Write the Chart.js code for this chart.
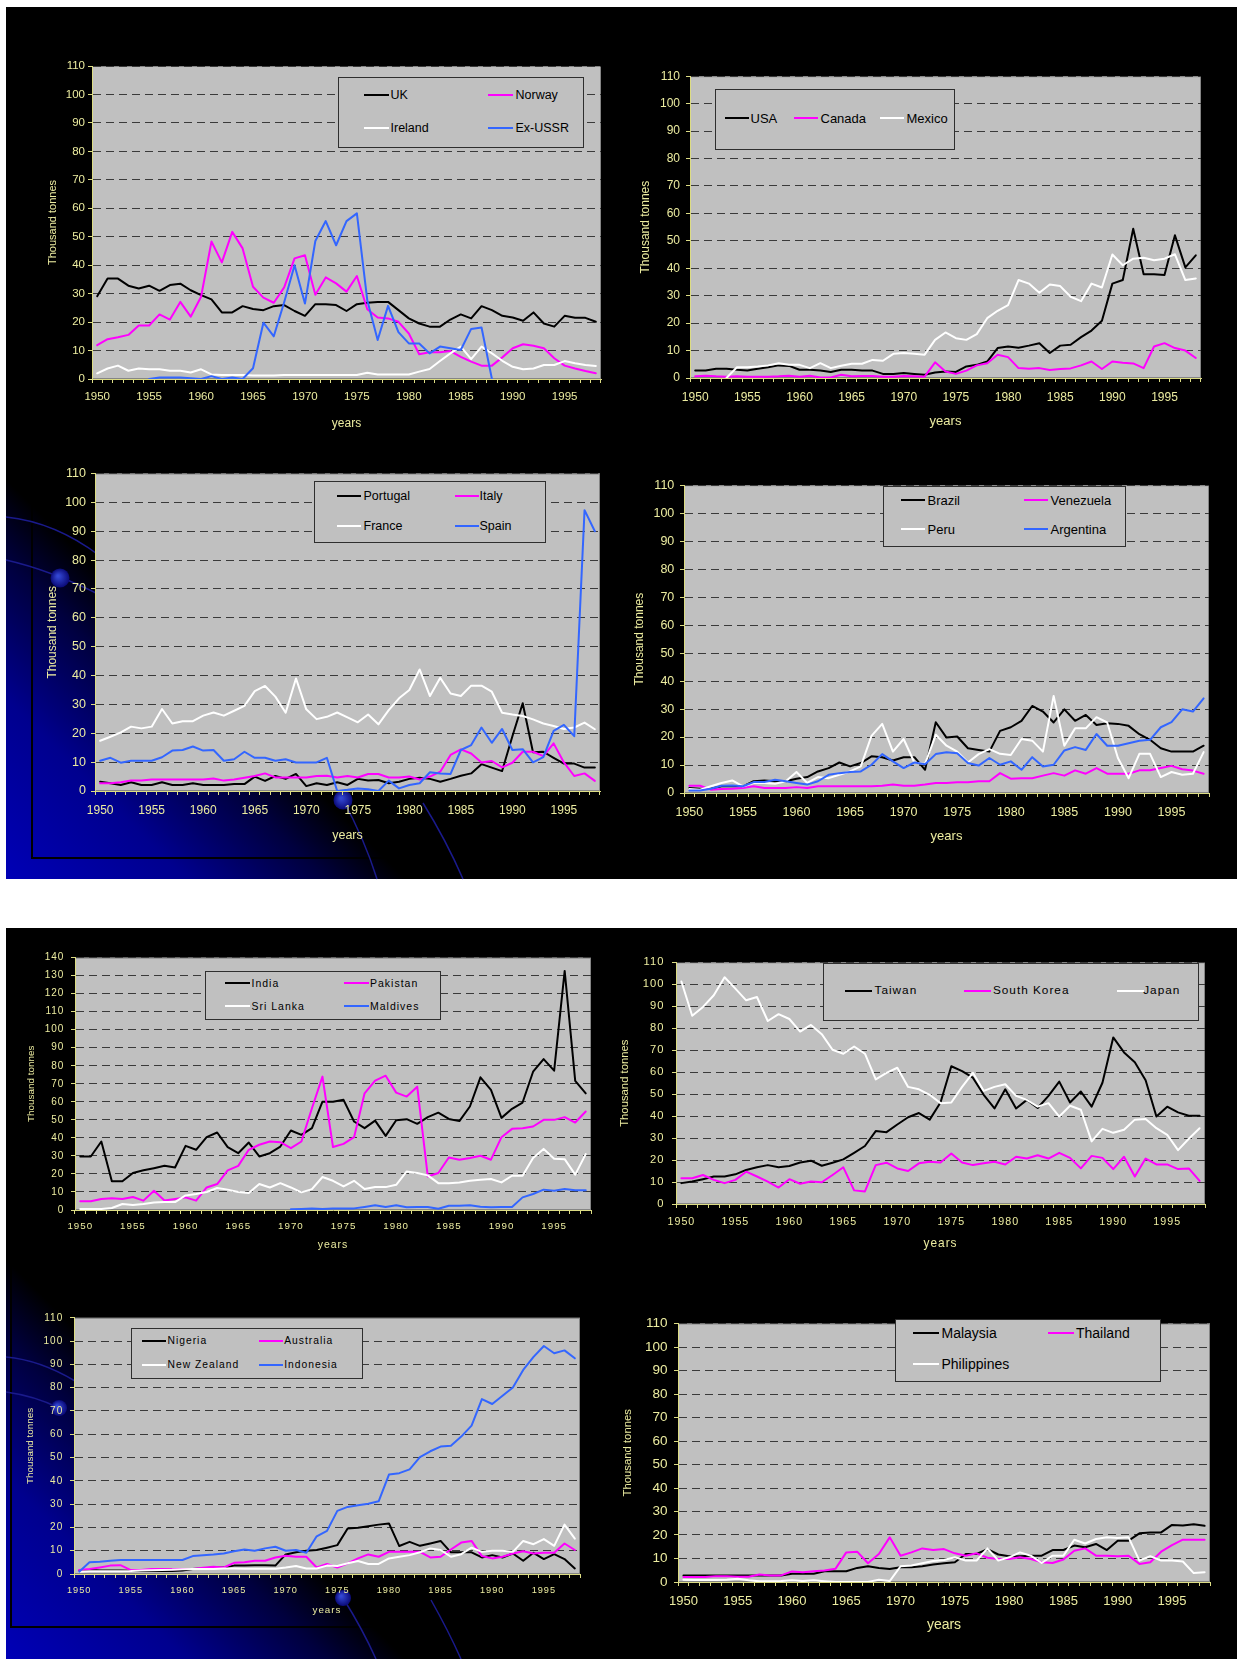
<!DOCTYPE html>
<html lang="en">
<head>
<meta charset="utf-8">
<title>Catches by country, 1950–1998</title>
<script src="https://cdn.jsdelivr.net/npm/chart.js@4.4.1/dist/chart.umd.min.js"></script>
<style>
  html, body { margin: 0; padding: 0; background: #ffffff; }
  body { position: relative; width: 1237px; height: 1659px; overflow: hidden;
         font-family: "Liberation Sans", Arial, Helvetica, sans-serif; }
  canvas { position: absolute; display: block; }
  .legend { position: absolute; box-sizing: border-box; background: #c0c0c0; border: 1.5px solid #2e2e2e; }
  .legend .swatch { position: absolute; height: 2px; }
  .legend .name { position: absolute; white-space: nowrap; color: #000; line-height: 1; transform: translateY(-50%); }
</style>
</head>
<body>
<canvas id="backdrop" width="1237" height="1659" style="left:0;top:0"></canvas>
<script>
// ---------- categories and tick labels ----------
const years = [
  '1950','1951','1952','1953','1954','1955','1956','1957','1958','1959',
  '1960','1961','1962','1963','1964','1965','1966','1967','1968','1969',
  '1970','1971','1972','1973','1974','1975','1976','1977','1978','1979',
  '1980','1981','1982','1983','1984','1985','1986','1987','1988','1989',
  '1990','1991','1992','1993','1994','1995','1996','1997','1998'];
const yearTickLabels = ['1950','1955','1960','1965','1970','1975','1980','1985','1990','1995'];
const yAxisMax = 110;
const yAxisMaxSouthAsia = 140;
const yAxisStep = 10;

// ---------- series values (thousand tonnes), 1950..1998 ----------
const uk = [
  29.1,35.3,35.3,32.8,31.8,32.8,31.0,33.0,33.5,31.2,
  29.5,28.0,23.4,23.4,25.6,24.6,24.2,25.6,26.0,23.9,
  22.2,26.3,26.3,26.0,23.9,26.3,26.8,27.1,27.1,24.2,
  21.3,19.5,18.4,18.4,20.9,22.7,21.3,25.6,24.2,22.2,
  21.6,20.5,23.4,19.5,18.4,22.2,21.5,21.5,20.1];
const norway = [
  11.9,14.0,14.7,15.5,18.8,18.8,22.7,20.9,27.1,21.9,
  28.9,48.3,41.0,51.7,45.9,32.4,28.6,26.8,32.2,42.4,
  43.5,29.6,35.7,33.6,30.7,36.2,24.5,21.6,21.3,20.1,
  16.0,8.7,9.4,9.4,9.8,7.8,6.1,4.7,4.7,7.6,
  10.8,12.2,11.7,10.8,7.3,4.7,3.7,2.8,2.0];
const ireland = [
  2.0,3.7,4.7,2.9,3.7,3.4,3.4,2.9,2.9,2.3,
  3.4,1.6,1.4,1.4,1.4,1.2,1.2,1.2,1.4,1.4,
  1.4,1.4,1.4,1.4,1.4,1.4,2.2,1.6,1.6,1.6,
  1.6,2.6,3.5,6.3,9.0,11.4,7.0,11.4,9.0,6.4,
  4.3,3.4,3.7,4.9,4.9,6.3,5.5,4.9,4.6];
const exUssr = [
  null,null,null,null,null,0,0.5,0.5,0.5,0.3,
  0,1.0,0,0.5,0,3.8,19.8,15.0,27.0,40.0,
  26.5,48.5,55.5,47.0,55.5,58.2,27.7,13.7,25.7,16.5,
  12.5,12.5,9.0,11.4,10.8,10.2,17.6,18.1,0,null,
  null,null,null,null,null,null,null,null,null];

const usa = [
  2.7,2.7,3.4,3.4,3.0,2.7,3.4,3.9,4.6,4.4,
  3.0,3.0,2.7,2.2,3.0,3.0,2.7,2.7,1.5,1.5,
  1.8,1.5,1.2,2.0,2.4,2.2,4.2,4.8,6.0,10.9,
  11.5,11.0,11.8,12.7,9.1,11.8,12.1,14.9,17.3,20.9,
  34.4,35.7,54.4,37.8,37.8,37.5,52.0,40.3,44.7];
const canada = [
  0.6,0.8,0.6,0.5,0.6,0.5,0.5,0.5,0.6,0.8,
  0.5,0.8,0.2,0.2,1.2,0.6,0.7,0.7,0.5,0.5,
  0.7,0.6,0.5,5.7,2.4,1.5,2.7,4.6,5.4,8.5,
  7.6,3.6,3.4,3.6,2.9,3.3,3.5,4.6,6.0,3.3,
  6.0,5.6,5.3,3.6,11.5,12.7,10.9,10.0,7.3];
const mexico = [
  null,null,null,0,3.9,3.9,4.2,4.6,5.4,4.8,
  4.8,3.6,5.4,3.6,4.5,5.2,5.2,6.6,6.3,8.8,
  9.1,8.8,8.5,13.9,16.6,14.5,13.9,16.0,21.8,24.5,
  26.6,35.7,34.4,31.1,34.1,33.5,29.6,28.0,34.4,33.0,
  45.0,41.1,43.5,43.8,42.9,43.5,45.1,35.7,36.3];

const portugal = [
  3.2,2.7,2.1,3.0,2.1,2.1,3.0,2.1,2.1,2.7,
  2.1,2.1,2.1,2.4,2.4,5.0,3.5,5.2,4.2,5.9,
  1.7,2.7,2.1,3.0,2.1,4.2,3.6,3.8,2.7,3.2,
  4.2,4.6,4.2,3.2,4.2,5.3,6.1,9.3,8.1,6.9,
  19.0,30.4,13.4,13.6,11.5,9.5,9.5,8.1,8.1];
const italy = [
  2.7,2.7,3.0,3.6,3.6,4.0,4.0,4.0,4.0,4.0,
  4.0,4.3,3.6,4.0,4.6,5.2,6.1,4.7,4.7,4.7,
  4.7,5.2,5.3,4.7,5.2,4.7,5.9,5.9,4.7,4.7,
  5.0,4.0,5.0,6.7,12.5,14.4,13.0,9.9,10.4,8.2,
  9.8,13.6,13.6,12.1,16.5,9.9,5.2,6.1,3.5];
const france = [
  17.4,18.8,20.3,22.3,21.7,22.3,28.4,23.4,24.2,24.2,
  26.1,27.2,26.1,27.8,29.5,34.6,36.4,32.7,27.1,39.0,
  28.3,24.9,25.7,27.2,25.5,23.8,26.5,23.1,28.0,32.1,
  35.0,42.1,32.9,39.2,33.8,32.9,36.5,36.5,34.4,27.1,
  26.5,26.0,24.8,23.4,22.5,21.5,22.0,23.7,21.4];
const spain = [
  10.5,11.5,9.8,10.5,10.5,10.5,11.7,14.0,14.2,15.4,
  14.0,14.2,10.5,11.0,13.6,11.5,11.5,10.5,11.0,9.9,
  9.9,9.9,11.5,0,0.4,0.9,0.6,0,3.6,0.9,
  2.1,2.7,6.5,6.1,5.9,14.2,15.9,22.0,16.7,21.5,
  14.2,14.5,9.9,11.7,20.8,22.9,19.0,97.3,90.0];

const brazil = [
  1.8,1.5,1.5,2.4,2.4,2.4,4.2,4.5,4.2,4.2,
  5.1,5.7,7.7,8.9,10.9,9.5,10.7,13.1,12.8,11.6,
  12.8,12.8,8.3,25.3,19.8,20.2,16.0,15.4,14.8,22.2,
  23.5,25.8,31.1,29.1,25.2,29.9,25.8,27.9,24.3,24.9,
  24.7,24.0,21.0,19.0,16.0,14.8,14.8,14.8,16.9];
const venezuela = [
  2.6,2.6,1.2,1.4,1.5,1.8,2.4,1.8,1.8,1.8,
  2.1,1.8,2.4,2.4,2.4,2.4,2.4,2.4,2.6,3.0,
  2.6,2.6,3.0,3.6,3.6,3.8,3.8,4.2,4.2,7.1,
  5.1,5.3,5.3,6.2,7.1,6.2,8.1,6.9,8.9,6.9,
  6.9,6.9,8.1,8.1,8.9,9.7,8.5,8.0,6.9];
const peru = [
  1.4,1.2,2.4,3.6,4.5,2.4,3.6,3.6,3.3,4.2,
  7.5,3.6,5.7,5.3,6.5,7.7,9.5,20.4,24.7,14.8,
  19.3,10.9,10.4,20.8,16.9,14.8,10.9,13.9,15.7,14.0,
  13.6,19.3,18.7,14.8,34.7,16.9,23.1,23.1,27.1,25.2,
  12.5,5.3,14.0,14.0,5.7,7.5,6.5,6.9,14.6];
const argentina = [
  0.9,0.9,1.5,2.6,2.7,2.4,3.9,3.9,4.7,4.2,
  3.6,3.0,4.2,6.5,7.1,7.5,7.7,10.1,13.9,11.3,
  8.9,10.9,10.3,13.9,14.6,14.2,10.7,9.8,12.5,10.1,
  11.3,8.3,12.8,9.5,10.1,15.2,16.4,15.4,21.1,16.9,
  16.9,17.8,18.7,19.0,23.5,25.3,29.9,29.1,33.8];

const india = [
  29.7,29.7,38.0,15.9,15.9,20.5,22.0,23.2,24.5,23.6,
  35.6,33.4,40.4,43.0,34.9,31.5,37.4,29.7,31.5,35.2,
  44.1,41.7,45.4,60.1,60.1,61.1,49.1,45.4,49.6,41.1,
  49.8,50.4,47.8,51.5,54.0,50.5,49.3,57.4,73.6,66.6,
  51.1,56.1,59.6,76.7,83.7,77.3,132.6,71.6,64.7];
const pakistan = [
  4.8,4.8,6.1,6.5,6.1,7.2,5.2,10.7,5.3,6.1,
  7.0,5.2,12.5,14.4,22.0,24.5,33.4,36.2,38.0,37.6,
  34.3,38.0,56.4,74.0,34.9,36.7,40.4,64.7,71.8,74.5,
  65.1,62.9,68.4,18.6,20.5,29.1,27.9,28.8,30.1,27.9,
  40.4,45.0,45.4,46.3,50.0,50.0,51.5,48.5,54.6];
const sriLanka = [
  0.6,0.6,0.6,1.1,3.3,2.8,3.3,4.2,4.4,4.4,
  8.1,8.9,10.0,12.2,11.3,10.0,9.4,14.4,12.5,14.9,
  12.5,9.8,11.6,18.3,16.2,13.1,16.2,11.6,12.7,12.7,
  14.0,21.4,20.5,19.2,14.9,14.9,15.3,16.2,16.8,17.2,
  15.3,19.0,19.0,28.8,33.9,28.4,28.2,19.6,31.0];
const maldives = [
  null,null,null,null,null,null,null,null,null,null,
  null,null,null,null,null,null,null,null,null,null,
  0.4,0.6,0.9,0.6,0.9,0.9,0.9,1.7,2.6,1.7,
  2.6,1.5,1.7,1.7,0.7,2.4,2.4,2.6,1.8,1.5,
  1.7,1.7,7.0,8.9,11.3,10.7,11.6,10.9,10.9];

const taiwan = [
  9.5,10.2,11.3,12.5,12.5,13.5,15.5,16.7,17.7,16.7,
  17.3,18.9,19.7,17.4,18.8,20.3,23.3,26.4,33.2,32.7,
  36.2,39.5,41.4,38.4,46.2,62.7,60.5,57.5,49.7,43.5,
  52.2,43.5,47.4,43.7,49.2,55.7,46.2,51.2,44.3,55.2,
  75.8,69.0,64.5,56.3,39.8,44.3,41.7,40.2,40.2];
const southKorea = [
  11.7,11.7,13.2,11.0,9.5,11.0,14.7,12.5,10.2,7.5,
  11.3,9.2,10.2,9.9,13.2,16.7,6.2,5.7,17.7,18.8,
  16.2,15.0,18.5,19.2,18.9,23.0,18.9,17.7,18.5,19.2,
  18.0,21.5,20.7,22.2,20.7,23.3,21.0,16.2,21.9,21.0,
  15.9,21.5,12.5,20.7,18.0,18.0,15.9,16.2,10.5];
const japan = [
  101.3,85.7,89.7,95.0,103.2,98.0,92.7,94.2,83.3,86.4,
  84.2,78.5,81.5,77.3,70.2,68.4,71.7,68.4,56.7,59.7,
  62.0,53.3,52.2,49.7,45.9,46.2,53.3,59.7,51.5,53.3,
  54.5,49.2,47.4,44.3,45.9,39.8,44.7,42.9,28.5,34.2,
  32.4,33.8,38.4,38.7,34.5,31.5,24.5,29.7,34.5];

const nigeria = [
  1.4,1.7,1.5,1.5,1.5,1.4,1.3,1.3,1.3,1.3,
  1.5,2.1,2.4,2.8,2.8,3.6,3.6,3.8,3.8,3.6,
  8.4,9.3,10.0,10.3,11.3,12.4,19.5,19.9,20.5,21.2,
  21.7,12.0,13.8,12.1,13.1,14.2,9.3,9.3,9.3,7.1,
  8.1,7.1,8.8,5.7,9.1,6.4,8.5,6.4,2.4];
const australia = [
  1.7,2.1,2.8,3.6,3.8,1.7,1.7,2.1,2.1,2.0,
  2.1,2.1,2.7,3.1,2.8,4.8,5.0,5.7,5.7,7.1,
  7.8,7.4,7.4,2.8,4.3,2.8,4.6,6.7,8.4,7.4,
  9.5,9.5,9.5,9.5,7.1,7.4,10.5,13.5,14.2,7.7,
  6.7,7.4,8.8,9.8,8.8,9.1,9.1,13.1,10.3];
const newZealand = [
  1.0,1.2,1.2,1.2,1.2,1.3,1.5,1.6,1.7,1.8,
  2.0,2.1,2.1,2.1,2.4,2.4,2.3,2.3,2.3,2.3,
  2.8,3.4,2.4,2.4,3.6,3.4,4.6,5.6,4.3,4.3,
  6.7,7.4,8.1,9.3,11.0,10.3,7.4,8.5,11.3,9.5,
  10.0,10.0,9.5,14.2,12.8,15.0,12.1,21.2,15.2];
const indonesia = [
  1.0,5.0,5.3,5.7,6.0,6.0,6.0,6.0,6.0,6.0,
  6.0,7.7,8.1,8.4,8.8,9.8,10.5,10.0,11.0,11.7,
  10.0,10.3,9.1,16.2,18.5,27.1,28.8,29.5,30.2,31.2,
  42.7,43.3,44.9,50.2,52.7,54.7,55.1,59.0,63.7,75.1,
  73.0,76.5,80.1,87.6,93.2,97.9,94.8,96.0,92.6];

const malaysia = [
  2.8,2.8,2.8,2.8,2.8,2.8,2.8,2.8,2.8,2.8,
  3.5,3.5,3.5,4.6,4.6,4.6,6.0,6.7,6.0,5.5,
  6.3,6.3,6.7,7.4,8.0,8.4,11.9,11.9,14.0,11.7,
  11.0,11.0,11.2,11.2,13.6,13.6,15.5,14.8,16.2,13.6,
  17.6,17.6,20.7,21.1,21.1,24.3,24.0,24.6,23.9];
const thailand = [
  2.1,2.1,2.1,2.5,2.5,2.2,2.2,3.2,2.8,2.8,
  4.5,4.2,4.6,4.9,5.6,12.6,12.9,8.0,11.9,19.0,
  11.2,12.6,14.3,13.6,14.0,12.2,11.2,12.2,10.3,9.8,
  9.8,10.5,9.8,8.4,8.1,9.6,13.3,14.3,11.2,11.2,
  11.0,11.2,7.7,8.4,12.9,15.7,18.0,18.0,18.0];
const philippines = [
  1.0,0.9,0.9,0.9,1.0,1.4,0.7,0.3,0.3,0.4,
  0.7,0.4,0.7,0.3,0,0,0,0,1.0,0.4,
  6.7,7.0,8.0,8.9,9.4,10.5,9.1,9.1,14.3,9.1,
  10.5,12.6,11.2,8.1,11.2,11.2,18.0,16.4,18.3,19.0,
  18.7,19.0,9.1,11.0,9.1,9.1,8.7,3.8,4.2];

// ---------- styling ----------
const FONT = '"Liberation Sans", Arial, Helvetica, sans-serif';
const TEXT = '#ececa0';
const AXIS = '#dcdc84';
const GRID = '#3a3a3a';
const PLOT_BG = '#c0c0c0';
const PLOT_EDGE = '#858585';
const COLORS = { black: '#000000', magenta: '#ff00ff', white: '#ffffff', blue: '#3366ff' };
const PAD = 12;

Chart.defaults.font.family = FONT;

// ---------- slide backdrop: two black panels with a blue corner glow ----------
(function paintBackdrop() {
  const ctx = document.getElementById('backdrop').getContext('2d');
  ctx.fillStyle = '#ffffff';
  ctx.fillRect(0, 0, 1237, 1659);

  function panel(x, y, w, h, deco) {
    ctx.fillStyle = '#000000';
    ctx.fillRect(x, y, w, h);
    const g = ctx.createLinearGradient(x, y + h, x + 200, y + h - 200);
    g.addColorStop(0, '#0000b6');
    g.addColorStop(0.45, '#00008e');
    g.addColorStop(0.8, '#00003e');
    g.addColorStop(1, '#000000');
    ctx.fillStyle = g;
    ctx.fillRect(x, y, w, h);

    ctx.strokeStyle = '#000000';
    ctx.lineWidth = 2;
    ctx.strokeRect(deco.frame[0], deco.frame[1], deco.frame[2], deco.frame[3]);

    ctx.strokeStyle = '#1a1a8c';
    ctx.lineWidth = 1.5;
    deco.curves.forEach(c => {
      ctx.beginPath();
      ctx.moveTo(c[0], c[1]);
      ctx.quadraticCurveTo(c[2], c[3], c[4], c[5]);
      ctx.stroke();
    });

    deco.dots.forEach(d => {
      const rg = ctx.createRadialGradient(d[0] - 2, d[1] - 2, 1, d[0], d[1], d[2]);
      rg.addColorStop(0, '#3346d2');
      rg.addColorStop(1, '#0a0a78');
      ctx.fillStyle = rg;
      ctx.beginPath();
      ctx.arc(d[0], d[1], d[2], 0, Math.PI * 2);
      ctx.fill();
    });
  }

  panel(6, 7, 1231, 872, {
    frame: [32, 30, 1185, 828],
    curves: [[6, 517, 55, 522, 100, 556], [6, 560, 50, 570, 100, 595],
             [343, 800, 364, 838, 377, 879], [423, 803, 446, 840, 463, 879]],
    dots: [[60, 578, 9.5], [343, 800, 9.5]]
  });
  panel(6, 928, 1231, 731, {
    frame: [11, 950, 1205, 677],
    curves: [[6, 1357, 40, 1360, 75, 1381], [6, 1392, 35, 1396, 59, 1408],
             [343, 1598, 362, 1628, 376, 1659], [431, 1600, 448, 1630, 461, 1659]],
    dots: [[59, 1408, 8], [343, 1598, 8]]
  });
})();

// ---------- plot area fill/frame; letter spacing only for layers drawn after the lines ----------
const plotFrame = {
  id: 'plotFrame',
  beforeDraw(chart) {
    const { ctx, chartArea: a } = chart;
    ctx.save();
    ctx.fillStyle = PLOT_BG;
    ctx.fillRect(a.left, a.top, a.width, a.height);
    ctx.strokeStyle = PLOT_EDGE;
    ctx.lineWidth = 1;
    ctx.strokeRect(a.left + 0.5, a.top + 0.5, a.width - 1, a.height - 1);
    ctx.restore();
    if ('letterSpacing' in ctx) ctx.letterSpacing = '0px';
  },
  afterDatasetsDraw(chart, args, opts) {
    const ctx = chart.ctx;
    if ('letterSpacing' in ctx) ctx.letterSpacing = opts.letterSpacing || '0px';
  }
};

// ---------- chart definitions ----------
const chartSpecs = [
  { area: { left: 92, top: 66, right: 601, bottom: 379 }, yMax: yAxisMax, spacing: 0,
    yTick: { size: 11.5, pad: 3 }, xTick: { size: 11.5, pad: 7 },
    yTitle: { size: 11, x: 52.6 }, xTitle: { size: 12, y: 424 },
    series: [['UK', uk, 'black'], ['Norway', norway, 'magenta'], ['Ireland', ireland, 'white'], ['Ex-USSR', exUssr, 'blue']],
    legend: { box: [338, 77, 584, 148], size: 12.5, line: 25,
              items: [[364, 391, 95], [488, 516, 95], [364, 391, 128], [488, 516, 128]] } },

  { area: { left: 690, top: 75, right: 1201, bottom: 378 }, yMax: yAxisMax, spacing: 0,
    yTick: { size: 12, pad: 6 }, xTick: { size: 12, pad: 8.8 },
    yTitle: { size: 12, x: 644.7 }, xTitle: { size: 13, y: 420.7 },
    series: [['USA', usa, 'black'], ['Canada', canada, 'magenta'], ['Mexico', mexico, 'white']],
    legend: { box: [715, 89, 955, 150], size: 13, line: 24,
              items: [[725, 751, 118], [794, 821, 118], [880, 907, 118]] } },

  { area: { left: 95, top: 473, right: 600, bottom: 791 }, yMax: yAxisMax, spacing: 0,
    yTick: { size: 12.5, pad: 5 }, xTick: { size: 12, pad: 8.5 },
    yTitle: { size: 12, x: 51.7 }, xTitle: { size: 12.5, y: 835 },
    series: [['Portugal', portugal, 'black'], ['Italy', italy, 'magenta'], ['France', france, 'white'], ['Spain', spain, 'blue']],
    legend: { box: [314, 481, 546, 543], size: 12.5, line: 24,
              items: [[337, 364, 496], [455, 480, 496], [337, 364, 526], [455, 480, 526]] } },

  { area: { left: 684, top: 484, right: 1209, bottom: 793 }, yMax: yAxisMax, spacing: 0,
    yTick: { size: 12.5, pad: 5.7 }, xTick: { size: 12.5, pad: 8.2 },
    yTitle: { size: 12, x: 638.7 }, xTitle: { size: 13, y: 836 },
    series: [['Brazil', brazil, 'black'], ['Venezuela', venezuela, 'magenta'], ['Peru', peru, 'white'], ['Argentina', argentina, 'blue']],
    legend: { box: [883, 486, 1126, 547], size: 13, line: 24,
              items: [[901, 928, 500.7], [1024, 1051, 500.7], [901, 928, 529.3], [1024, 1051, 529.3]] } },

  { area: { left: 75, top: 957, right: 591, bottom: 1210 }, yMax: yAxisMaxSouthAsia, spacing: 1,
    yTick: { size: 10, pad: 6.6 }, xTick: { size: 9.75, pad: 6 },
    yTitle: { size: 9.9, x: 30.8 }, xTitle: { size: 10.5, y: 1244.3 },
    series: [['India', india, 'black'], ['Pakistan', pakistan, 'magenta'], ['Sri Lanka', sriLanka, 'white'], ['Maldives', maldives, 'blue']],
    legend: { box: [205, 971, 441, 1020], size: 10.5, line: 25,
              items: [[225, 252, 983.3], [344, 370.5, 983.3], [225, 252, 1006.7], [344, 370.5, 1006.7]] } },

  { area: { left: 676, top: 960, right: 1205, bottom: 1204 }, yMax: yAxisMax, spacing: 1,
    yTick: { size: 11.2, pad: 7.6 }, xTick: { size: 10.7, pad: 8 },
    yTitle: { size: 11.3, x: 625 }, xTitle: { size: 11.9, y: 1244 },
    series: [['Taiwan', taiwan, 'black'], ['South Korea', southKorea, 'magenta'], ['Japan', japan, 'white']],
    legend: { box: [823, 963, 1199, 1021], size: 11.8, line: 27,
              items: [[845, 875, 991], [964, 993.4, 991], [1117, 1143.7, 991]] } },

  { area: { left: 74, top: 1317, right: 580, bottom: 1574 }, yMax: yAxisMax, spacing: 1,
    yTick: { size: 10, pad: 6.8 }, xTick: { size: 9.2, pad: 6.7 },
    yTitle: { size: 9.9, x: 29.7 }, xTitle: { size: 9.8, y: 1610 },
    series: [['Nigeria', nigeria, 'black'], ['Australia', australia, 'magenta'], ['New Zealand', newZealand, 'white'], ['Indonesia', indonesia, 'blue']],
    legend: { box: [130.5, 1328, 362.6, 1379], size: 10.3, line: 24,
              items: [[142, 168, 1341], [259, 284.7, 1341], [142, 168, 1365], [259, 284.7, 1365]] } },

  { area: { left: 678, top: 1321, right: 1210, bottom: 1582 }, yMax: yAxisMax, spacing: 0,
    yTick: { size: 13.5, pad: 6.4 }, xTick: { size: 13, pad: 7.9 },
    yTitle: { size: 11.3, x: 628 }, xTitle: { size: 14, y: 1626 },
    series: [['Malaysia', malaysia, 'black'], ['Thailand', thailand, 'magenta'], ['Philippines', philippines, 'white']],
    legend: { box: [895, 1319, 1161, 1382], size: 14, line: 26,
              items: [[913.6, 942, 1333.3], [1048, 1076.5, 1333.3], [913.6, 942, 1364.3]] } }
];

function buildLegend(chart, spec) {
  const L = spec.legend;
  const bw = 1.5;
  const items = Chart.defaults.plugins.legend.labels.generateLabels(chart)
    .sort((a, b) => a.datasetIndex - b.datasetIndex);
  const box = document.createElement('div');
  box.className = 'legend';
  box.style.left = L.box[0] + 'px';
  box.style.top = L.box[1] + 'px';
  box.style.width = (L.box[2] - L.box[0]) + 'px';
  box.style.height = (L.box[3] - L.box[1]) + 'px';
  items.forEach((it, i) => {
    const [lineX, textX, rowY] = L.items[i];
    const sw = document.createElement('div');
    sw.className = 'swatch';
    sw.style.left = (lineX - L.box[0] - bw) + 'px';
    sw.style.top = (rowY - L.box[1] - bw - 1) + 'px';
    sw.style.width = L.line + 'px';
    sw.style.background = it.strokeStyle;
    box.appendChild(sw);
    const name = document.createElement('div');
    name.className = 'name';
    name.textContent = it.text;
    name.style.left = (textX - L.box[0] - bw) + 'px';
    name.style.top = (rowY - L.box[1] - bw) + 'px';
    name.style.fontSize = L.size + 'px';
    name.style.letterSpacing = spec.spacing + 'px';
    box.appendChild(name);
  });
  document.body.appendChild(box);
}

function makeChart(spec) {
  const a = spec.area;
  const canvasLeft = Math.round(spec.yTitle.x - spec.yTitle.size * 1.2 / 2);
  const canvasBottom = Math.round(spec.xTitle.y + spec.xTitle.size * 1.2 / 2);
  const canvasTop = a.top - PAD;
  const canvasRight = a.right + PAD;
  const yWidth = a.left - canvasLeft;
  const xHeight = canvasBottom - a.bottom;

  const canvas = document.createElement('canvas');
  canvas.width = canvasRight - canvasLeft;
  canvas.height = canvasBottom - canvasTop;
  canvas.style.left = canvasLeft + 'px';
  canvas.style.top = canvasTop + 'px';
  canvas.style.width = canvas.width + 'px';
  canvas.style.height = canvas.height + 'px';
  document.body.appendChild(canvas);

  const n = spec.series.length;
  const datasets = spec.series.map(([label, values, colorKey], i) => ({
    label,
    data: values,
    borderColor: COLORS[colorKey],
    backgroundColor: COLORS[colorKey],
    borderWidth: 2,
    borderJoinStyle: 'round',
    borderCapStyle: 'round',
    pointRadius: 0,
    pointHoverRadius: 0,
    tension: 0,
    fill: false,
    spanGaps: false,
    order: n - 1 - i
  }));

  const chart = new Chart(canvas, {
    type: 'line',
    data: { labels: years, datasets },
    plugins: [plotFrame],
    options: {
      responsive: false,
      animation: false,
      events: [],
      devicePixelRatio: 1,
      layout: { padding: { top: PAD, right: PAD, left: 0, bottom: 0 } },
      plugins: {
        legend: { display: false },
        tooltip: { enabled: false },
        plotFrame: { letterSpacing: spec.spacing + 'px' }
      },
      scales: {
        x: {
          type: 'category',
          offset: true,
          afterFit(scale) { scale.height = xHeight; },
          grid: { display: true, drawOnChartArea: false, drawTicks: true, offset: true, z: 1,
                  tickLength: 4, tickColor: AXIS, color: AXIS, lineWidth: 1 },
          border: { display: true, color: AXIS, width: 1, z: 1 },
          ticks: {
            z: 1,
            autoSkip: false, maxRotation: 0, minRotation: 0,
            color: TEXT, padding: spec.xTick.pad,
            font: { size: spec.xTick.size, family: FONT },
            callback(value) {
              const lab = this.getLabelForValue(value);
              return yearTickLabels.includes(lab) ? lab : '';
            }
          },
          title: { display: true, text: 'years', color: TEXT, padding: 0,
                   font: { size: spec.xTitle.size, family: FONT } }
        },
        y: {
          min: 0, max: spec.yMax,
          afterFit(scale) { scale.width = yWidth; },
          grid: {
            drawOnChartArea: true, drawTicks: true, tickLength: 4, tickColor: AXIS, lineWidth: 1,
            color: ctx => (ctx.tick && ctx.tick.value === 0) ? 'rgba(0,0,0,0)' : GRID
          },
          border: { display: true, color: AXIS, width: 1, dash: [8, 5] },
          ticks: { z: 1, stepSize: yAxisStep, color: TEXT, padding: spec.yTick.pad,
                   font: { size: spec.yTick.size, family: FONT } },
          title: { display: true, text: 'Thousand tonnes', color: TEXT, padding: 0,
                   font: { size: spec.yTitle.size, family: FONT } }
        }
      }
    }
  });
  buildLegend(chart, spec);
  return chart;
}

chartSpecs.forEach(makeChart);
</script>
</body>
</html>
